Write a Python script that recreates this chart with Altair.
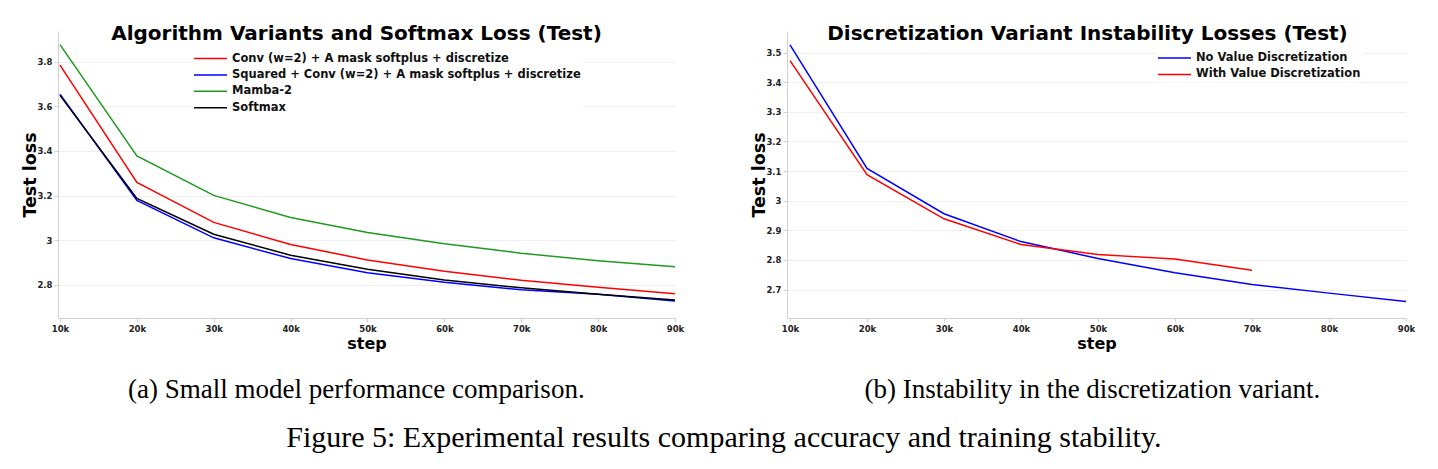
import altair as alt
import pandas as pd

# Training steps shared by both panels
steps = [10000, 20000, 30000, 40000, 50000, 60000, 70000, 80000, 90000]

# Panel (a): test loss of the algorithm variants and softmax
conv_loss = [3.784, 3.259, 3.080, 2.981, 2.912, 2.861, 2.821, 2.790, 2.761]
squared_loss = [3.654, 3.178, 3.011, 2.918, 2.855, 2.812, 2.778, 2.758, 2.728]
mamba_loss = [3.876, 3.378, 3.201, 3.102, 3.035, 2.984, 2.942, 2.908, 2.881]
softmax_loss = [3.649, 3.187, 3.027, 2.933, 2.870, 2.822, 2.787, 2.758, 2.733]

series_a = [
    "Conv (w=2) + A mask softplus + discretize",
    "Squared + Conv (w=2) + A mask softplus + discretize",
    "Mamba-2",
    "Softmax",
]
colors_a = ["#ff0000", "#0000ff", "#1e9a1e", "#000000"]
yticks_a = [2.8, 3.0, 3.2, 3.4, 3.6, 3.8]

# Panel (b): with / without value discretization (the latter stops at 70k)
no_disc_loss = [3.526, 3.109, 2.956, 2.862, 2.805, 2.757, 2.717, 2.688, 2.660]
with_disc_loss = [3.473, 3.088, 2.939, 2.852, 2.818, 2.803, 2.765]

series_b = ["No Value Discretization", "With Value Discretization"]
colors_b = ["#0000ff", "#ff0000"]
yticks_b = [2.7, 2.8, 2.9, 3.0, 3.1, 3.2, 3.3, 3.4, 3.5]

FONT = "DejaVu Sans"
SERIF = "Liberation Serif"


def long_table(names, columns):
    rows = []
    for name, values in zip(names, columns):
        for s, v in zip(steps, values):
            rows.append({"step": s, "loss": v, "series": name})
    return pd.DataFrame(rows)


df_a = long_table(series_a, [conv_loss, squared_loss, mamba_loss, softmax_loss])
df_b = long_table(series_b, [no_disc_loss, with_disc_loss])


def panel(df, names, colors, y_domain, y_ticks, x_min, width, title, title_dx,
          legend_x, legend_y):
    return (
        alt.Chart(df)
        .mark_line(strokeWidth=1.5)
        .encode(
            x=alt.X(
                "step:Q",
                scale=alt.Scale(domain=[x_min, 90000], nice=False, zero=False),
                axis=alt.Axis(
                    values=steps,
                    format="~s",
                    title="step",
                    grid=False,
                    labelFlush=False,
                    titlePadding=3,
                    titleFontSize=16,
                ),
            ),
            y=alt.Y(
                "loss:Q",
                scale=alt.Scale(domain=y_domain, nice=False, zero=False),
                axis=alt.Axis(
                    values=y_ticks,
                    format=".1~f",
                    title="Test loss",
                    grid=True,
                    titlePadding=-3,
                    titleFontSize=17.5,
                ),
            ),
            color=alt.Color(
                "series:N",
                sort=names,
                scale=alt.Scale(domain=names, range=colors),
                legend=alt.Legend(
                    title=None,
                    orient="none",
                    legendX=legend_x,
                    legendY=legend_y,
                    symbolType="M-1,0H5",
                    symbolSize=121,
                    symbolStrokeWidth=1.5,
                    labelOffset=26,
                    labelFont=FONT,
                    labelFontSize=11.5,
                    labelFontWeight="bold",
                    labelColor="#111111",
                    labelLimit=600,
                    rowPadding=4.4,
                    fillColor="white",
                    padding=2,
                ),
            ),
        )
        .properties(
            width=width,
            height=287,
            title=alt.TitleParams(
                title,
                offset=-13,
                dx=title_dx,
                font=FONT,
                fontSize=20,
                fontWeight="bold",
                color="#000000",
                anchor="middle",
            ),
        )
    )


chart_a = panel(
    df_a, series_a, colors_a, [2.652, 3.937], yticks_a, 9740, 617,
    "Algorithm Variants and Softmax Loss (Test)", -10, 133, 19,
)
chart_b = panel(
    df_b, series_b, colors_b, [2.604, 3.573], yticks_b, 9610, 619,
    "Discretization Variant Instability Losses (Test)", -9, 368, 18.5,
)

caption_style = dict(orient="bottom", font=SERIF, fontSize=27, fontWeight="normal",
                     color="#000000", anchor="middle", offset=25)

figure = (
    alt.hconcat(
        alt.hconcat(chart_a, title=alt.TitleParams(
            "(a) Small model performance comparison.", dx=3.5, **caption_style)),
        alt.hconcat(chart_b, title=alt.TitleParams(
            "(b) Instability in the discretization variant.", dx=9.5, **caption_style)),
        spacing=66,
        title=alt.TitleParams(
            "Figure 5: Experimental results comparing accuracy and training stability.",
            orient="bottom", font=SERIF, fontSize=30, fontWeight="normal",
            color="#000000", anchor="middle", offset=20, dx=5.5,
        ),
    )
    .resolve_scale(color="independent")
    .resolve_legend(color="independent")
    .properties(
        padding={"left": 21, "top": 24, "right": 0, "bottom": 0},
        background="white",
    )
    .configure_view(stroke=None)
    .configure_axis(
        labelFont=FONT,
        labelFontSize=8.5,
        labelFontWeight="bold",
        labelColor="#222222",
        labelPadding=2,
        titleFont=FONT,
        titleFontWeight="bold",
        titleColor="#000000",
        domainColor="#d0d0d0",
        tickColor="#d0d0d0",
        tickSize=4,
        gridColor="#efefef",
    )
)

figure.save("out.html", embed_options={"renderer": "svg", "actions": False})
